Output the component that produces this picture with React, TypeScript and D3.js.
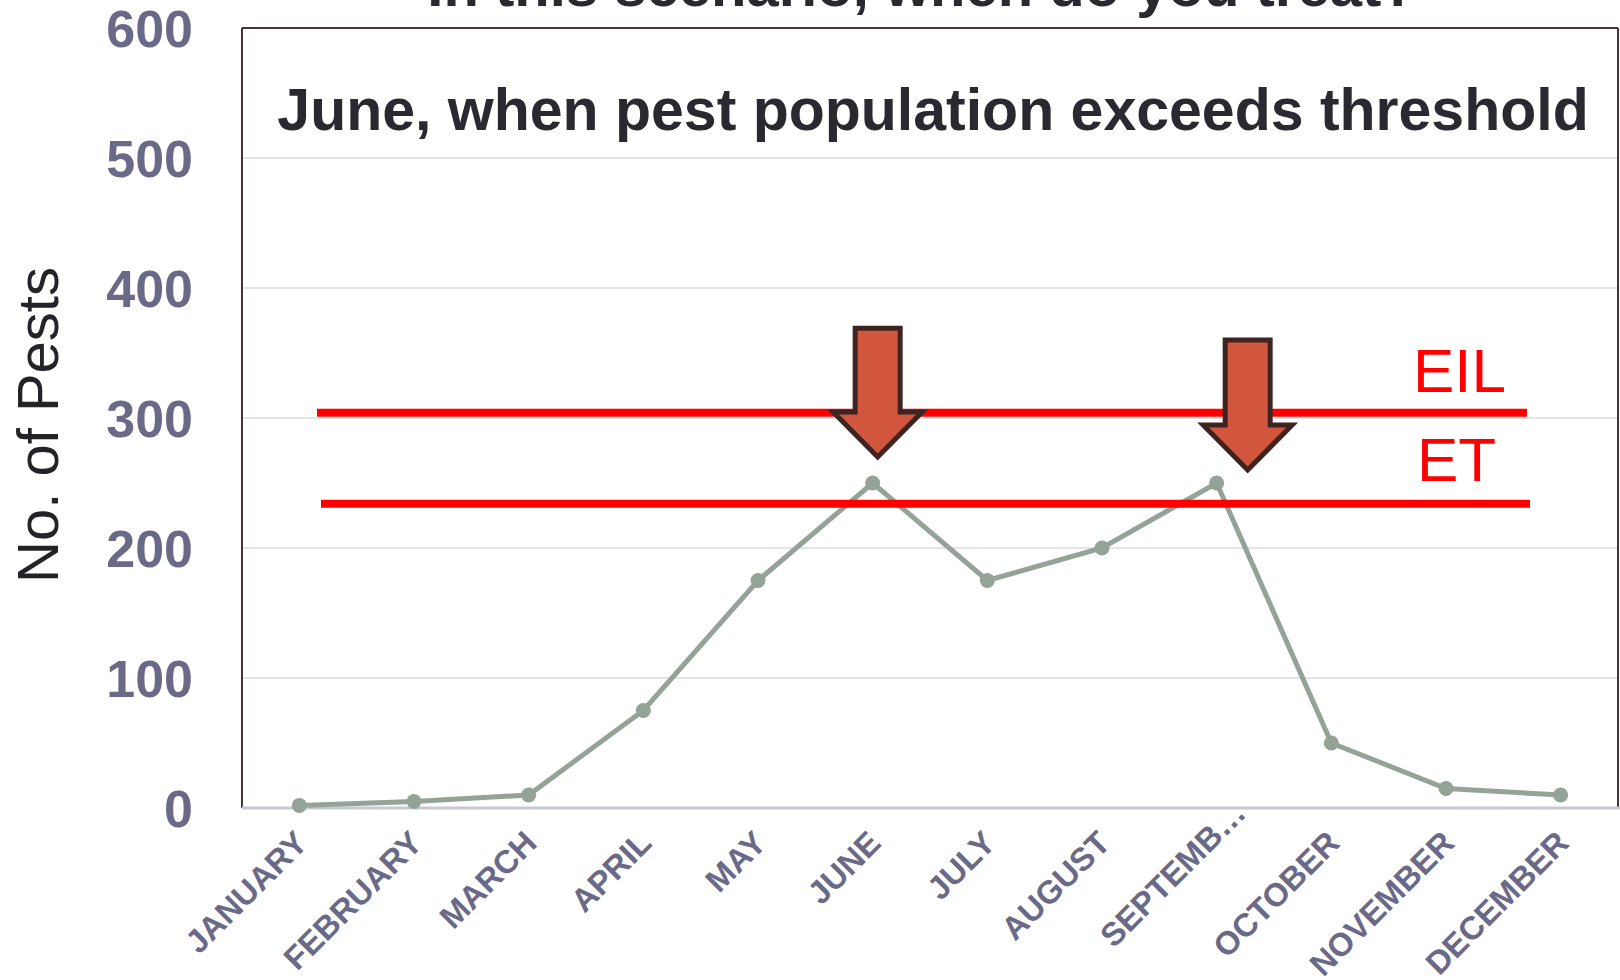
import React from "react";
import * as d3 from "d3";

const MONTHS = [
  "JANUARY", "FEBRUARY", "MARCH", "APRIL", "MAY", "JUNE",
  "JULY", "AUGUST", "SEPTEMB\u2026", "OCTOBER", "NOVEMBER", "DECEMBER",
];
const PESTS = [2, 5, 10, 75, 175, 250, 175, 200, 250, 50, 15, 10];
const Y_TICKS = [0, 100, 200, 300, 400, 500, 600];
const EIL_VALUE = 304;
const ET_VALUE = 234;
const ARROW_MONTHS = ["JUNE", "SEPTEMB\u2026"];
const ARROW_TOPS = [369, 360];
const ARROW_TIPS = [270, 260];
const TITLE = "In this scenario, when do you treat?";
const SUBTITLE = "June, when pest population exceeds threshold";
const Y_TITLE = "No. of Pests";

const W = 1620;
const H = 980;
const M = { left: 242, right: 2, top: 28, bottom: 172 };
const FONT = "'Liberation Sans', Arial, Helvetica, sans-serif";
const TICK_COLOR = "#6a6a88";
const DARK = "#29292f";
const FRAME = "#4a3330";

export default function App() {
  const x = d3
    .scalePoint<string>()
    .domain(MONTHS)
    .range([M.left, W - M.right])
    .padding(0.5);
  const y = d3.scaleLinear().domain([0, 600]).range([H - M.bottom, M.top]);

  const line = d3
    .line<number>()
    .x((_, i) => x(MONTHS[i]) as number)
    .y((d) => y(d));

  const x0 = M.left;
  const x1 = W - M.right;
  const yb = y(0);
  const yt = y(600);

  const arrowOffsets = [5, 31];
  const arrows = ARROW_MONTHS.map((m, i) => {
    const cx = (x(m) as number) + arrowOffsets[i];
    const top = y(ARROW_TOPS[i]);
    const tip = y(ARROW_TIPS[i]);
    const wing = tip - 45;
    const sh = 22.5;
    const hh = 44.5;
    return `M${cx - sh},${top} L${cx + sh},${top} L${cx + sh},${wing} L${cx + hh},${wing} L${cx},${tip} L${cx - hh},${wing} L${cx - sh},${wing} Z`;
  });

  return (
    <svg
      width={W}
      height={H}
      style={{ position: "absolute", left: 0, top: 0, background: "#fff" }}
      fontFamily={FONT}
    >
      <rect x={0} y={0} width={W} height={H} fill="#fff" />
      <text x={922} y={6} textAnchor="middle" fontSize={58} fontWeight="bold" fill={DARK}>
        {TITLE}
      </text>

      {Y_TICKS.filter((t) => t > 0 && t < 600).map((t) => (
        <line key={t} x1={x0} x2={x1} y1={y(t)} y2={y(t)} stroke="#dcdce0" strokeWidth={1.5} />
      ))}

      <line x1={x0} x2={x0} y1={yt} y2={yb} stroke={FRAME} strokeWidth={2} />
      <line x1={x0} x2={x1} y1={yt} y2={yt} stroke={FRAME} strokeWidth={2} />
      <line x1={x1} x2={x1} y1={yt} y2={yb} stroke={FRAME} strokeWidth={2} />
      <line x1={x0} x2={W} y1={yb} y2={yb} stroke="#c9c9d0" strokeWidth={3} />

      {Y_TICKS.map((t) => (
        <text
          key={t}
          x={193}
          y={y(t)}
          dy="0.36em"
          textAnchor="end"
          fontSize={52}
          fontWeight="bold"
          fill={TICK_COLOR}
        >
          {t}
        </text>
      ))}

      <text
        transform={`translate(58,${(yt + yb) / 2 + 7}) rotate(-90)`}
        textAnchor="middle"
        fontSize={58}
        fill="#232328"
      >
        {Y_TITLE}
      </text>

      {MONTHS.map((m) => {
        const cx = x(m) as number;
        const truncated = m.endsWith("\u2026");
        return truncated ? (
          <text
            key={m}
            transform={`translate(${cx - 103},${949}) rotate(-45)`}
            textAnchor="start"
            fontSize={32.5}
            fontWeight="bold"
            fill={TICK_COLOR}
          >
            {m}
          </text>
        ) : (
          <text
            key={m}
            transform={`translate(${cx + 10},${845}) rotate(-45)`}
            textAnchor="end"
            fontSize={32.5}
            fontWeight="bold"
            fill={TICK_COLOR}
          >
            {m}
          </text>
        );
      })}

      <text x={933} y={130} textAnchor="middle" fontSize={59} fontWeight="bold" fill={DARK}>
        {SUBTITLE}
      </text>

      <path d={line(PESTS) || ""} fill="none" stroke="#94a397" strokeWidth={5} />
      {PESTS.map((v, i) => (
        <circle key={i} cx={x(MONTHS[i]) as number} cy={y(v)} r={7.5} fill="#94a397" />
      ))}

      <line x1={317} x2={1527} y1={y(EIL_VALUE)} y2={y(EIL_VALUE)} stroke="#ff0000" strokeWidth={8} />
      <line x1={321} x2={1530} y1={y(ET_VALUE)} y2={y(ET_VALUE)} stroke="#ff0000" strokeWidth={8} />
      <text x={1413} y={392} fontSize={62} fill="#ff0000">EIL</text>
      <text x={1417} y={481} fontSize={62} fill="#ff0000">ET</text>

      {arrows.map((d, i) => (
        <path key={i} d={d} fill="#d2553e" stroke="#3e2421" strokeWidth={5} strokeLinejoin="miter" />
      ))}
    </svg>
  );
}
